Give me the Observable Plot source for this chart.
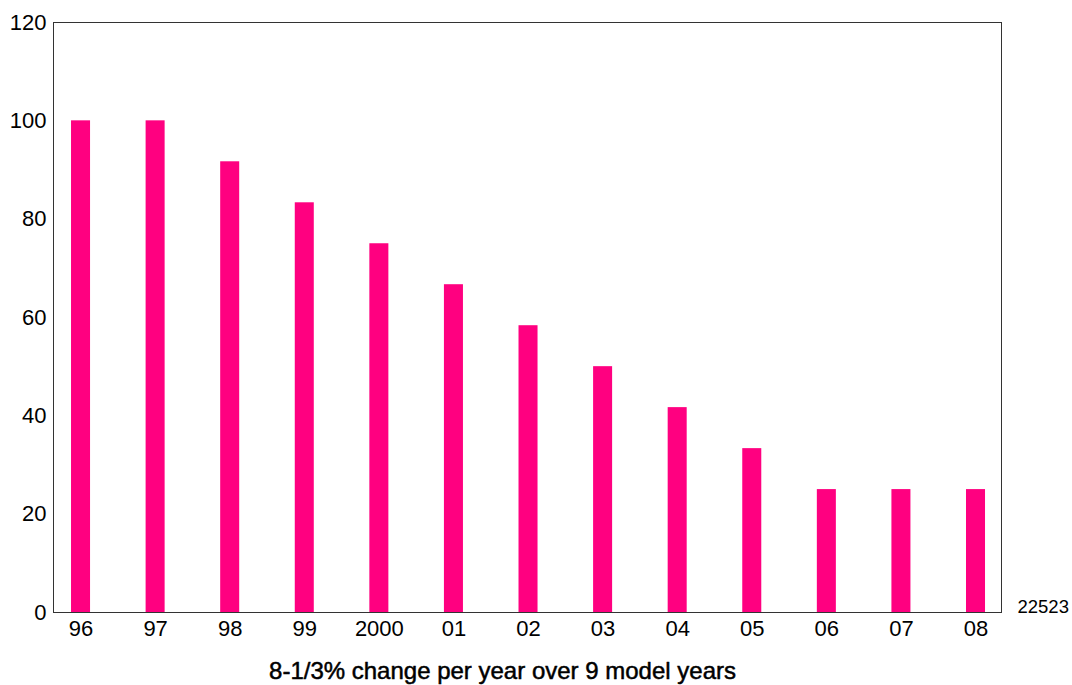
<!DOCTYPE html>
<html>
<head>
<meta charset="utf-8">
<script src="https://cdn.jsdelivr.net/npm/d3@7"></script>
<script src="https://cdn.jsdelivr.net/npm/@observablehq/plot@0.6"></script>
<style>
  body { margin: 0; background: #fff; }
  #chart svg { display: block; }
</style>
</head>
<body>
<div id="chart"></div>
<script>
const years = ["96", "97", "98", "99", "2000", "01", "02", "03", "04", "05", "06", "07", "08"];
const values = [100, 100, 91.67, 83.33, 75, 66.67, 58.33, 50, 41.67, 33.33, 25, 25, 25];
const yTicks = [0, 20, 40, 60, 80, 100, 120];
const captionText = "8-1/3% change per year over 9 model years";
const idText = "22523";

const data = years.map((y, i) => ({year: y, value: values[i]}));

const chart = Plot.plot({
  width: 1072,
  height: 685,
  marginLeft: 53,
  marginRight: 71,
  marginTop: 22,
  marginBottom: 73,
  style: {fontFamily: "Liberation Sans, Arial, sans-serif", fontSize: "22px", color: "#000", background: "#fff"},
  x: {domain: years, paddingInner: 0.745, paddingOuter: 0.228, align: 0.53, round: false, label: null},
  y: {domain: [0, 120], ticks: yTicks, label: null},
  marks: [
    Plot.barY(data, {x: "year", y: "value", fill: "#FF0080"}),
    Plot.frame({stroke: "#333", strokeWidth: 1}),
    Plot.axisY({ticks: yTicks, tickSize: 0, tickPadding: 7, fontSize: 22, label: null}),
    Plot.axisX({tickSize: 0, tickPadding: 8, fontSize: 22, label: null}),
    Plot.text([idText], {frameAnchor: "bottom-right", text: d => d, dx: 16, dy: 0, textAnchor: "start", fontSize: 18.5}),
    Plot.text([captionText], {frameAnchor: "bottom", text: d => d, dx: -25, dy: 66, fontSize: 24, stroke: "#000", strokeWidth: 0.5, fill: "#000"})
  ]
});
document.getElementById("chart").appendChild(chart);
</script>
</body>
</html>
